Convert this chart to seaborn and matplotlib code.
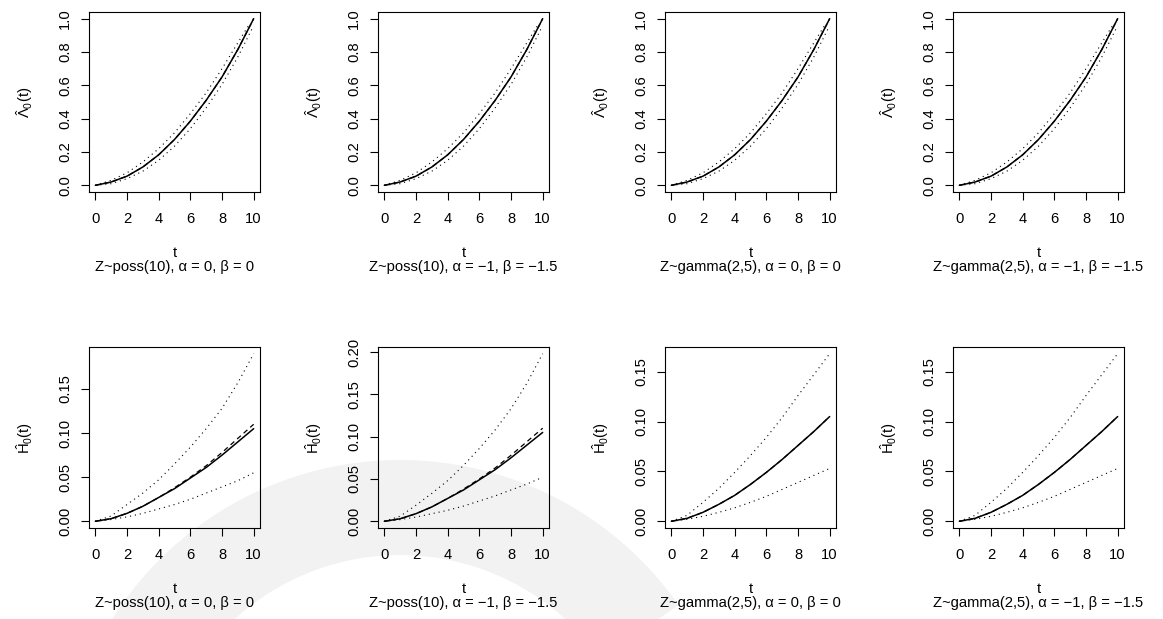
import matplotlib
matplotlib.use("Agg")
import matplotlib.pyplot as plt
import matplotlib.transforms as mtransforms
from matplotlib.patches import Wedge
import seaborn as sns

# ---------------- data ----------------
T = [0, 1, 2, 3, 4, 5, 6, 7, 8, 9, 10]

# top row: baseline cumulative hazard Lambda_0(t)
LAM_EST = [0, 0.020, 0.055, 0.110, 0.183, 0.275, 0.385, 0.510, 0.650, 0.815, 1.000]
T_LAM_UP = [0, 1, 2, 3, 4, 5, 6, 7, 8, 9, 9.75]
LAM_UP = [0, 0.030, 0.075, 0.140, 0.220, 0.315, 0.430, 0.555, 0.700, 0.855, 0.970]
T_LAM_LO = [0, 1, 2, 3, 4, 5, 6, 7, 8, 9, 9.9]
LAM_LO = [0, 0.010, 0.040, 0.085, 0.150, 0.235, 0.340, 0.465, 0.605, 0.770, 0.940]

# bottom row: H_0(t)
H_POSS_EST = [0, 0.003, 0.009, 0.017, 0.027, 0.037, 0.049, 0.061, 0.075, 0.090, 0.105]
H_POSS_TRUE = [0, 0.003, 0.009, 0.017, 0.027, 0.038, 0.050, 0.063, 0.078, 0.094, 0.110]
H_POSS1_UP = [0, 0.006, 0.019, 0.032, 0.047, 0.065, 0.084, 0.105, 0.128, 0.157, 0.190]
H_POSS1_LO = [0, 0.002, 0.005, 0.009, 0.014, 0.019, 0.025, 0.032, 0.039, 0.046, 0.055]
H_POSS2_UP = [0, 0.006, 0.019, 0.033, 0.048, 0.066, 0.086, 0.108, 0.133, 0.163, 0.198]
H_POSS2_LO = [0, 0.002, 0.005, 0.009, 0.013, 0.018, 0.024, 0.030, 0.037, 0.044, 0.052]
H_GAM_EST = [0, 0.003, 0.009, 0.017, 0.026, 0.037, 0.049, 0.062, 0.076, 0.090, 0.105]
H_GAM_TRUE = [0, 0.003, 0.009, 0.017, 0.026, 0.037, 0.049, 0.062, 0.076, 0.090, 0.105]
H_GAM_UP = [0, 0.006, 0.019, 0.033, 0.049, 0.066, 0.084, 0.104, 0.126, 0.147, 0.168]
H_GAM_LO = [0, 0.002, 0.005, 0.009, 0.0135, 0.019, 0.025, 0.032, 0.039, 0.046, 0.053]

SUBTITLES = [
    "Z~poss(10), α = 0, β = 0",
    "Z~poss(10), α = −1, β = −1.5",
    "Z~gamma(2,5), α = 0, β = 0",
    "Z~gamma(2,5), α = −1, β = −1.5",
]
X_TICKS = [0, 2, 4, 6, 8, 10]
TOP_YTICKS = [0.0, 0.2, 0.4, 0.6, 0.8, 1.0]
BOT_YTICKS = [0.00, 0.05, 0.10, 0.15, 0.20]

# ---------------- style ----------------
sns.set_theme(style="ticks")
plt.rcParams.update({
    "font.family": ["Liberation Sans", "DejaVu Sans"],
    "mathtext.fontset": "custom",
    "mathtext.rm": "Liberation Sans",
    "mathtext.it": "Liberation Sans",
    "mathtext.bf": "Liberation Sans:bold",
    "axes.edgecolor": "black",
    "axes.linewidth": 0.8,
    "xtick.color": "black",
    "ytick.color": "black",
    "text.color": "black",
    "axes.labelcolor": "black",
})

FS = 10.6
W, H = 1163, 619
fig = plt.figure(figsize=(W / 100, H / 100), dpi=100)
fig.patch.set_facecolor("white")

# faint watermark arc
wm = Wedge((400, -181), 340, 35, 165, width=95, facecolor="#f2f2f2",
           edgecolor="none", transform=mtransforms.IdentityTransform(), zorder=-5)
fig.add_artist(wm)

COL_LEFT = [89, 378, 665, 953]
COL_W = 171
ROWS = [(12, 192), (347, 528)]

DOT = (0, (1, 3.5))
DASH = (0, (4, 3))


def draw(ax, lines):
    for x, y, ls, lw in lines:
        sns.lineplot(x=x, y=y, ax=ax, color="black", linestyle=ls, linewidth=lw,
                     estimator=None, sort=False, legend=False)


def rlim(vals):
    lo, hi = min(vals), max(vals)
    r = hi - lo
    return lo - 0.04 * r, hi + 0.04 * r


bottom_sets = [
    (H_POSS_EST, H_POSS_TRUE, H_POSS1_UP, H_POSS1_LO),
    (H_POSS_EST, H_POSS_TRUE, H_POSS2_UP, H_POSS2_LO),
    (H_GAM_EST, H_GAM_TRUE, H_GAM_UP, H_GAM_LO),
    (H_GAM_EST, H_GAM_TRUE, H_GAM_UP, H_GAM_LO),
]

for r, (ytop, ybot) in enumerate(ROWS):
    for c in range(4):
        ax = fig.add_axes([COL_LEFT[c] / W, 1 - ybot / H, COL_W / W, (ybot - ytop) / H])
        ax.set_facecolor("none")
        if r == 0:
            lines = [
                (T, LAM_EST, "-", 1.1),
                (T, LAM_EST, DASH, 0.9),
                (T_LAM_UP, LAM_UP, DOT, 0.8),
                (T_LAM_LO, LAM_LO, DOT, 0.8),
            ]
            draw(ax, lines)
            allv = LAM_EST + LAM_UP + LAM_LO
            ax.set_ylim(*rlim(allv))
            ax.set_yticks(TOP_YTICKS)
            ax.set_yticklabels([f"{v:.1f}" for v in TOP_YTICKS])
            ylab = r"$\hat{\Lambda}_0(t)$"
        else:
            est, tru, up, lo = bottom_sets[c]
            lines = [
                (T, est, "-", 1.1),
                (T, tru, DASH, 0.9),
                (T, up, DOT, 0.8),
                (T, lo, DOT, 0.8),
            ]
            draw(ax, lines)
            allv = est + tru + up + lo
            y0, y1 = rlim(allv)
            ax.set_ylim(y0, y1)
            ticks = [v for v in BOT_YTICKS if v <= y1 + 1e-9]
            ax.set_yticks(ticks)
            ax.set_yticklabels([f"{v:.2f}" for v in ticks])
            ylab = r"$\hat{H}_0(t)$"

        ax.set_xlim(-0.4, 10.4)
        ax.set_xticks(X_TICKS)
        ax.set_xticklabels([str(v) for v in X_TICKS])
        ax.set_xlabel("")
        ax.set_ylabel("")
        for s in ax.spines.values():
            s.set_visible(True)
            s.set_color("black")
            s.set_linewidth(0.8)
        ax.tick_params(axis="both", direction="out", length=5.8, width=0.8,
                       labelsize=FS, colors="black")
        ax.tick_params(axis="x", pad=8.5)
        ax.tick_params(axis="y", pad=6.5)
        for lab in ax.get_yticklabels():
            lab.set_rotation(90)
            lab.set_va("center")

        ax.text(-64 / COL_W, 0.5, ylab, transform=ax.transAxes, rotation=90,
                ha="center", va="center", fontsize=FS)
        tr_t = mtransforms.offset_copy(ax.transAxes, fig=fig, x=0, y=-61 * 0.72, units="points")
        ax.text(0.5, 0, "t", transform=tr_t, ha="center", va="center", fontsize=FS)
        tr_s = mtransforms.offset_copy(ax.transAxes, fig=fig, x=0, y=-75 * 0.72, units="points")
        ax.text(0.5, 0, SUBTITLES[c], transform=tr_s, ha="center", va="center", fontsize=FS)

fig.savefig("out.png", dpi=100, facecolor="white")
